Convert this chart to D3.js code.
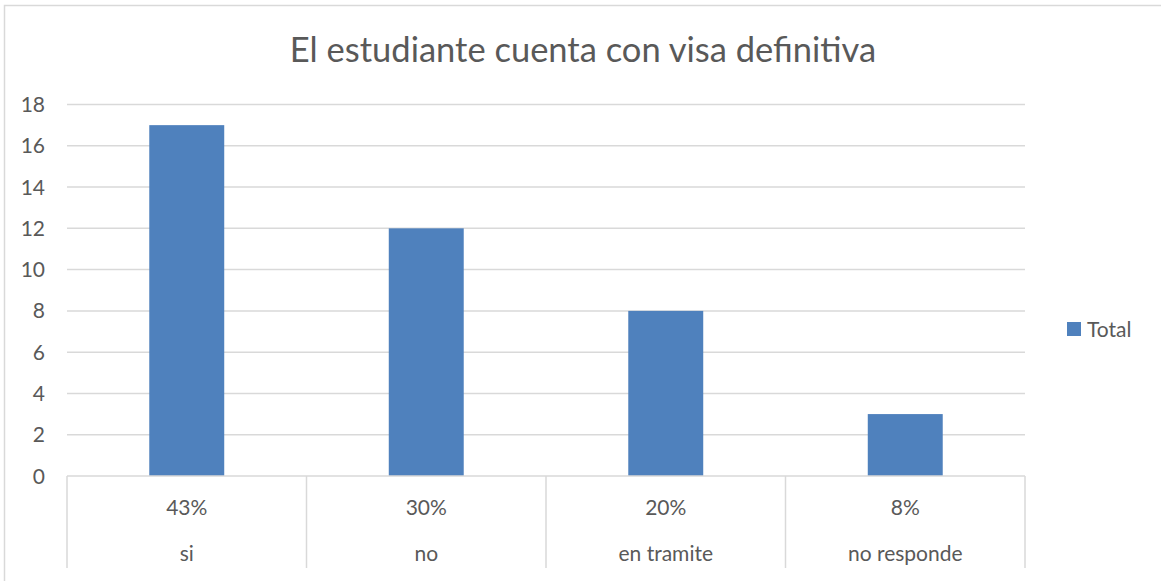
<!DOCTYPE html>
<html>
  <head>
    <meta charset="utf-8">
    <script src="https://d3js.org/d3.v7.min.js"></script>
    <title>El estudiante cuenta con visa definitiva</title>
    <style>
      body { margin: 0; background: #fff; }
      svg { display: block; }
      text { font-family: Lato, "Open Sans", sans-serif; fill: #595959; }
    </style>
  </head>
  <body>
    <svg width="1161" height="581"></svg>
    <script>
      const categories = ['si', 'no', 'en tramite', 'no responde'];
      const percents = ['43%', '30%', '20%', '8%'];
      const totals = [17, 12, 8, 3];
      const yTicks = [0, 2, 4, 6, 8, 10, 12, 14, 16, 18];
      const title = 'El estudiante cuenta con visa definitiva';
      const seriesName = 'Total';

      const margin = { left: 67, right: 136, top: 104.5, bottom: 105 };
      const svg = d3.select('svg');
      const width = +svg.attr('width');
      const height = +svg.attr('height');
      const innerWidth = width - margin.left - margin.right;
      const innerHeight = height - margin.top - margin.bottom;

      // chart frame (right and bottom edges fall outside the picture)
      svg.append('path')
          .attr('d', `M4.5,${height}V5.5H${width}`)
          .attr('fill', 'none').attr('stroke', '#d9d9d9').attr('stroke-width', 1.5);

      svg.append('text')
          .attr('x', 583).attr('y', 62)
          .attr('text-anchor', 'middle')
          .attr('font-size', 34.5)
          .text(title);

      const g = svg.append('g')
          .attr('transform', `translate(${margin.left},${margin.top})`);

      const x = d3.scaleBand()
        .domain(categories)
        .range([0, innerWidth])
        .paddingInner(0.687)
        .paddingOuter(0.3435);

      const y = d3.scaleLinear()
        .domain([0, 18])
        .range([innerHeight, 0]);

      // gridlines
      g.selectAll('.grid').data(yTicks.filter(d => d > 0))
        .enter().append('line')
          .attr('x1', 0).attr('x2', innerWidth)
          .attr('y1', d => y(d)).attr('y2', d => y(d))
          .attr('stroke', '#d9d9d9').attr('stroke-width', 1.5);

      // y labels
      g.selectAll('.ylab').data(yTicks)
        .enter().append('text')
          .attr('x', -22)
          .attr('y', d => y(d) + 7.5)
          .attr('text-anchor', 'end')
          .attr('font-size', 21)
          .text(d => d);

      // bars
      g.selectAll('.bar').data(totals)
        .enter().append('rect')
          .attr('x', (d, i) => x(categories[i]))
          .attr('y', d => y(d))
          .attr('width', x.bandwidth())
          .attr('height', d => innerHeight - y(d))
          .attr('fill', '#4f81bd');

      // category axis (two-level)
      const step = x.step();
      g.append('line')
          .attr('x1', 0).attr('x2', innerWidth)
          .attr('y1', innerHeight).attr('y2', innerHeight)
          .attr('stroke', '#d9d9d9').attr('stroke-width', 1.5);

      g.selectAll('.sep').data(d3.range(categories.length + 1))
        .enter().append('line')
          .attr('x1', d => d * step).attr('x2', d => d * step)
          .attr('y1', innerHeight).attr('y2', innerHeight + 92)
          .attr('stroke', '#d9d9d9').attr('stroke-width', 1.5);

      g.selectAll('.pct').data(percents)
        .enter().append('text')
          .attr('x', (d, i) => x(categories[i]) + x.bandwidth() / 2)
          .attr('y', innerHeight + 38.5)
          .attr('text-anchor', 'middle')
          .attr('font-size', 21)
          .text(d => d);

      g.selectAll('.cat').data(categories)
        .enter().append('text')
          .attr('x', d => x(d) + x.bandwidth() / 2)
          .attr('y', innerHeight + 84.5)
          .attr('text-anchor', 'middle')
          .attr('font-size', 21)
          .text(d => d);

      // legend
      const legendG = svg.append('g')
          .attr('transform', 'translate(1067,322)');
      legendG.append('rect')
          .attr('width', 14).attr('height', 14)
          .attr('fill', '#4f81bd');
      legendG.append('text')
          .attr('x', 20).attr('y', 14.5)
          .attr('font-size', 21)
          .text(seriesName);
    </script>
  </body>
</html>
